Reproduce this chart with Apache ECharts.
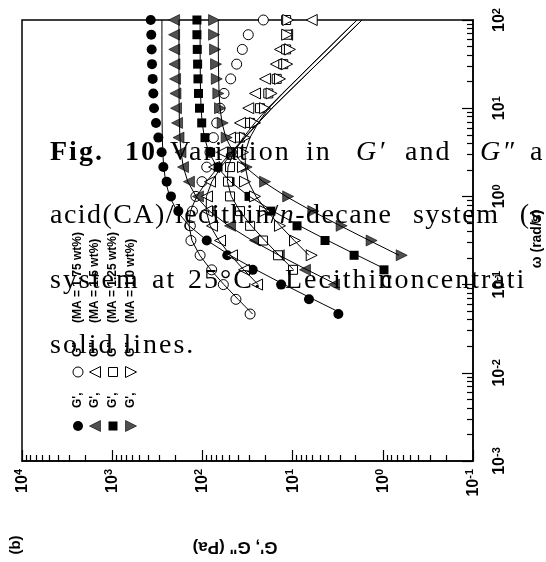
<!DOCTYPE html>
<html><head><meta charset="utf-8">
<script src="https://cdn.jsdelivr.net/npm/echarts@6/dist/echarts.min.js"></script>
<style>
html,body{margin:0;padding:0;background:#fff;overflow:hidden;width:546px;height:562px;}
#chart{position:absolute;left:0;top:0;width:546px;height:562px;}
.cap{position:absolute;font-family:'Liberation Serif','Times New Roman',serif;font-size:28px;line-height:28px;color:#000;white-space:pre;letter-spacing:2px;z-index:5;}
</style></head><body>
<div id="chart"></div>
<div class="cap" style="left:50px;top:136.6px;font-weight:bold">Fig.</div>
<div class="cap" style="left:125px;top:136.6px;font-weight:bold">10</div>
<div class="cap" style="left:170px;top:136.6px">Variation</div>
<div class="cap" style="left:306px;top:136.6px">in</div>
<div class="cap" style="left:356px;top:136.6px;font-style:italic">G′</div>
<div class="cap" style="left:405px;top:136.6px">and</div>
<div class="cap" style="left:480px;top:136.6px;font-style:italic">G″</div>
<div class="cap" style="left:530px;top:136.6px">a</div>
<div class="cap" style="left:50px;top:199.6px;letter-spacing:1.45px;word-spacing:12px">acid(CA)/lecithin/<i>n</i>-decane system (s</div>
<div class="cap" style="left:50px;top:264.6px">system</div>
<div class="cap" style="left:152px;top:264.6px">at</div>
<div class="cap" style="left:188px;top:264.6px">25°C.</div>
<div class="cap" style="left:285px;top:264.6px">Lecithin</div>
<div class="cap" style="left:380px;top:264.6px">concentrati</div>
<div class="cap" style="left:50px;top:329.6px">solid lines.</div>
<script>
// angular frequency (rad/s), 6 points per decade
const omega = [100, 68.1, 46.4, 31.6, 21.5, 14.7, 10, 6.81, 4.64, 3.16, 2.15, 1.47, 1, 0.681, 0.464, 0.316, 0.215, 0.147, 0.1, 0.0681, 0.0464];

// measured G' (filled) and G'' (open), Pa
const gp175  = [374, 369, 365, 362, 356, 350, 344, 327, 308, 283, 271, 249, 223, 185, 140, 89.5, 53, 27.7, 13.4, 6.58, 3.11];
const gpp175 = [21.1, 31.0, 36.1, 41.7, 48.6, 57.6, 63.8, 69.4, 75.6, 82.4, 89.6, 101, 118, 129, 136, 134, 106, 78.9, 58.6, 42.5, 29.6];
const gp150  = [206, 206, 205, 204, 201, 199, 196, 191, 184, 175, 164, 141, 112, 82.4, 49.4, 26.1, 14.2, 7.29, 3.48];
const gpp150 = [6.14, 11.5, 13.8, 15.3, 20.2, 26.1, 31.0, 38.3, 49.4, 60.7, 74.3, 82.4, 89, 89, 78.3, 63.8, 47.0, 34.6, 24.8];
const gp125  = [115, 115, 114, 113, 112, 110.5, 107.7, 101.8, 93.6, 81.3, 67.1, 49.4, 30.4, 17.4, 8.93, 4.37, 2.08, 0.97];
const gpp125 = [11.8, 11.5, 11.8, 12.7, 15.0, 18.6, 23.0, 29.6, 38.3, 44.7, 49.4, 52.0, 49.4, 38.3, 29.6, 21.3, 14.5, 9.9];
const gp100  = [74.3, 74.3, 72.4, 70.6, 69.3, 66.6, 63.8, 59.6, 53.8, 44.7, 32.3, 20.2, 11.2, 5.90, 2.86, 1.33, 0.617];
const gpp100 = [11.2, 11.5, 10.7, 11.5, 13.8, 17.1, 20.2, 26.1, 33.7, 35.5, 35.5, 33.7, 26.1, 20.2, 13.8, 9.4, 6.14];

// solid (fit) lines, Pa
const fitGp175  = [281, 281, 281, 280.9, 280.9, 280.7, 280.4, 279.7, 278.2, 275, 268.4, 255.3, 230.9, 191.5, 140.1, 88.7, 49.5, 25.4, 12.39, 5.88, 2.77];
const fitGpp175 = [1.70, 2.50, 3.66, 5.38, 7.90, 11.57, 16.97, 24.15, 34.2, 48.1, 66.8, 90.1, 115.6, 135.8, 140.6, 130.6, 107, 80.6, 57.7, 40.2, 27.8];
const fitGp150  = [182, 182, 182, 181.9, 181.8, 181.5, 181, 179.9, 177.5, 172.5, 162.7, 145.1, 117.5, 83.4, 51.3, 28.0, 14.15, 6.88, 3.25];
const fitGpp150 = [1.70, 2.49, 3.65, 5.37, 7.89, 11.55, 16.9, 23.96, 33.6, 46.4, 62.2, 78.6, 90.3, 90.7, 81.9, 65.7, 48.7, 34.7, 24.1];
const fitGp125  = [106, 106, 106, 105.7, 105.4, 104.8, 103.4, 100.6, 94.9, 84.7, 68.8, 49.0, 30.2, 16.5, 8.38, 4.06, 1.92, 0.904];
const fitGpp125 = [1.93, 2.84, 4.15, 6.10, 8.91, 13.0, 18.85, 26.2, 35.3, 45.1, 52.1, 52.9, 47.8, 38.4, 28.6, 20.3, 14.13, 9.74];
const fitGp100  = [66.7, 66.7, 66.6, 66.4, 66.0, 65.3, 63.7, 60.6, 54.9, 45.6, 33.35, 21.2, 11.84, 6.06, 2.956, 1.409, 0.660];
const fitGpp100 = [1.93, 2.83, 4.13, 6.06, 8.84, 12.84, 18.38, 24.06, 29.7, 33.6, 33.35, 31.0, 25.5, 19.17, 13.72, 9.59, 6.60];

// axis tick exponents (labels 10^n)
const gTickExp = [-1, 0, 1, 2, 3, 4];
const wTickExp = [-3, -2, -1, 0, 1, 2];
const minorMult = [2, 3, 4, 5, 6, 7, 8, 9];

const legendLabels = ['(MA = 1.75 wt%)', '(MA = 1.5 wt%)', '(MA = 1.25 wt%)', '(MA = 1.0 wt%)'];
const axisNameG = "G', G\" (Pa)";
const axisNameW = 'ω (rad/s)';
const panelTag = '(b)';

const DARK = '#505050';
const FONT = "'Liberation Sans', Arial, sans-serif";

function minorVals(exps) {
  const out = [];
  for (let i = 0; i < exps.length - 1; i++) {
    for (const m of minorMult) out.push(m * Math.pow(10, exps[i]));
  }
  return out;
}
function pairs(g, w) { return g.map((v, i) => [v, w[i]]); }

const richLab = {
  b: { fontSize: 16, fontWeight: 'bold', fontFamily: FONT, color: '#000', verticalAlign: 'bottom', lineHeight: 17 },
  s: { fontSize: 11, fontWeight: 'bold', fontFamily: FONT, color: '#000', verticalAlign: 'top', lineHeight: 11 }
};
function expFmt(v) { const e = Math.round(Math.log10(v)); return '{b|10}{s|' + e + '}'; }

const chart = echarts.init(document.getElementById('chart'), null, { renderer: 'canvas' });

const seriesDefs = [
  { d: gp175,  f: fitGp175,  sym: 'circle',   rot: 0,   fill: '#000', size: 10 },
  { d: gpp175, f: fitGpp175, sym: 'circle',   rot: 0,   fill: '#fff', size: 10 },
  { d: gp150,  f: fitGp150,  sym: 'triangle', rot: 90,  fill: DARK,   size: 11 },
  { d: gpp150, f: fitGpp150, sym: 'triangle', rot: 90,  fill: '#fff', size: 11 },
  { d: gp125,  f: fitGp125,  sym: 'rect',     rot: 0,   fill: '#000', size: 9 },
  { d: gpp125, f: fitGpp125, sym: 'rect',     rot: 0,   fill: '#fff', size: 9 },
  { d: gp100,  f: fitGp100,  sym: 'triangle', rot: -90, fill: DARK,   size: 11 },
  { d: gpp100, f: fitGpp100, sym: 'triangle', rot: -90, fill: '#fff', size: 11 }
];

const series = [];
seriesDefs.forEach(s => {
  series.push({
    type: 'scatter', xAxisIndex: 0, yAxisIndex: 0, z: 2,
    symbol: s.sym, symbolRotate: s.rot, symbolSize: s.size,
    itemStyle: { color: s.fill, borderColor: '#000', borderWidth: s.fill === '#fff' ? 1 : (s.fill === DARK ? 0.6 : 0), opacity: 1 },
    data: pairs(s.d, omega)
  });
});
seriesDefs.forEach(s => {
  series.push({
    type: 'line', xAxisIndex: 0, yAxisIndex: 0, z: 3,
    showSymbol: false, symbol: 'none', smooth: false,
    lineStyle: { color: '#000', width: 1 },
    data: pairs(s.f, omega)
  });
});

// legend (drawn in a rotated group, like the rest of the rotated figure)
const legendChildren = [];
const rowY = [78, 95, 113, 131];
function marker(kind, filled, cx, cy, color) {
  const style = { fill: filled ? color : '#fff', stroke: '#000', lineWidth: filled ? 0.6 : 1 };
  if (filled && color === '#000') style.lineWidth = 0;
  if (kind === 'circle') return { type: 'circle', shape: { cx, cy, r: 5 }, style };
  if (kind === 'rect') return { type: 'rect', shape: { x: cx - 4.5, y: cy - 4.5, width: 9, height: 9 }, style };
  if (kind === 'up') return { type: 'polygon', shape: { points: [[cx, cy - 5.5], [cx - 5.5, cy + 5.5], [cx + 5.5, cy + 5.5]] }, style };
  return { type: 'polygon', shape: { points: [[cx, cy + 5.5], [cx - 5.5, cy - 5.5], [cx + 5.5, cy - 5.5]] }, style };
}
const legKinds = [['circle', '#000'], ['up', DARK], ['rect', '#000'], ['down', DARK]];
legendLabels.forEach((lab, i) => {
  const y = rowY[i];
  legendChildren.push(marker(legKinds[i][0], true, 136, y, legKinds[i][1]));
  legendChildren.push({ type: 'text', x: 154, y: y, style: { text: "G',", font: 'bold 12px ' + FONT, fill: '#000', verticalAlign: 'middle', align: 'left' } });
  legendChildren.push(marker(legKinds[i][0], false, 190, y, legKinds[i][1]));
  legendChildren.push({ type: 'text', x: 205, y: y, style: { text: 'G"', font: 'bold 12px ' + FONT, fill: '#000', verticalAlign: 'middle', align: 'left' } });
  legendChildren.push({ type: 'text', x: 239, y: y, style: { text: lab, font: 'bold 12px ' + FONT, fill: '#000', verticalAlign: 'middle', align: 'left' } });
});
legendChildren.push({ type: 'text', x: 15, y: 235, rotation: Math.PI / 2, style: { text: axisNameG, font: 'bold 17px ' + FONT, fill: '#000', align: 'center', verticalAlign: 'middle' } });
legendChildren.push({ type: 'text', x: 323, y: 537, style: { text: axisNameW, font: 'bold 14px ' + FONT, fill: '#000', align: 'center', verticalAlign: 'middle' } });
legendChildren.push({ type: 'text', x: 17, y: 16, style: { text: panelTag, font: 'bold 15px ' + FONT, fill: '#000', align: 'center', verticalAlign: 'middle' } });

const option = {
  animation: false,
  backgroundColor: '#fff',
  grid: { left: 22, right: 73, top: 20, bottom: 101, containLabel: false, outerBoundsMode: 'none',
          show: true, borderColor: '#000', borderWidth: 1.5, backgroundColor: 'transparent' },
  xAxis: [
    { type: 'log', logBase: 10, min: 0.1, max: 10000, inverse: true, position: 'bottom',
      splitLine: { show: false },
      axisLine: { show: true, lineStyle: { color: '#000', width: 1.5 } },
      axisTick: { show: true, inside: true, length: 11, lineStyle: { color: '#000', width: 1.2 } },
      axisLabel: { show: true, rotate: 90, margin: 8, formatter: expFmt, rich: richLab } },
    { type: 'log', logBase: 10, min: 0.1, max: 10000, inverse: true, position: 'bottom',
      splitLine: { show: false }, axisLine: { show: false }, axisLabel: { show: false },
      axisTick: { show: true, inside: true, length: 6, customValues: minorVals(gTickExp), lineStyle: { color: '#000', width: 1.2 } } }
  ],
  yAxis: [
    { type: 'log', logBase: 10, min: 0.001, max: 100, position: 'right',
      splitLine: { show: false },
      axisLine: { show: true, lineStyle: { color: '#000', width: 1.5 } },
      axisTick: { show: true, inside: true, length: 11, lineStyle: { color: '#000', width: 1.2 } },
      axisLabel: { show: true, rotate: 90, margin: 18, formatter: expFmt, rich: richLab } },
    { type: 'log', logBase: 10, min: 0.001, max: 100, position: 'right', offset: 0,
      splitLine: { show: false }, axisLine: { show: false }, axisLabel: { show: false },
      axisTick: { show: true, inside: true, length: 6, customValues: minorVals(wTickExp), lineStyle: { color: '#000', width: 1.2 } } }
  ],
  graphic: [{ type: 'group', x: 0, y: 562, rotation: Math.PI / 2, children: legendChildren }],
  series: series
};
chart.setOption(option);
</script>
</body></html>
